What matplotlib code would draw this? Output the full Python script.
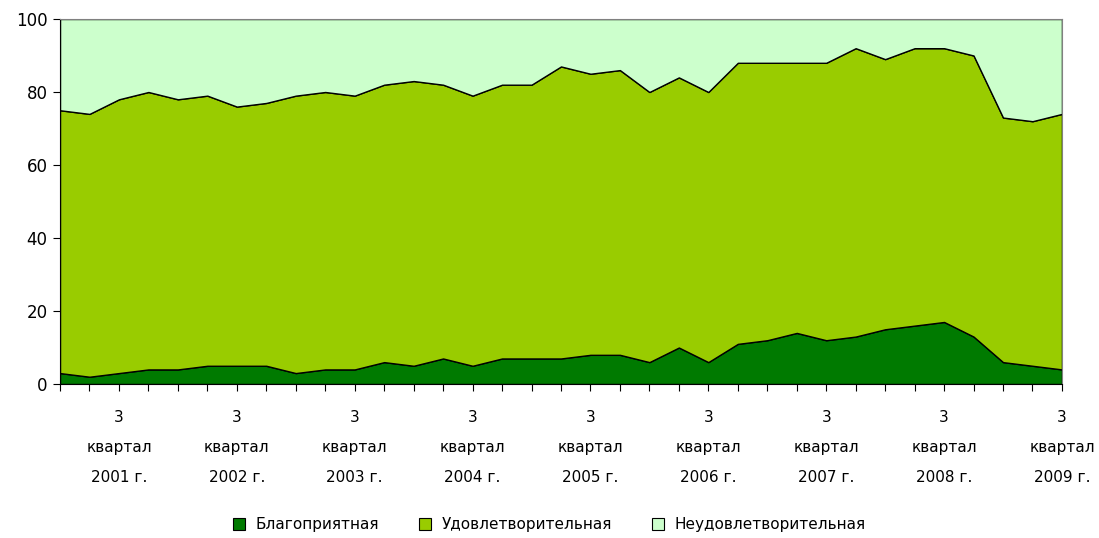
import numpy as np
import matplotlib
matplotlib.use('Agg')
import matplotlib.pyplot as plt
from matplotlib.patches import Patch

# quarters 2001 Q1 .. 2009 Q3
quarters = ['%d кв. %d' % (q, y) for y in range(2001, 2010) for q in (1, 2, 3, 4)][:35]
favorable = [3, 2, 3, 4, 4, 5, 5, 5, 3, 4, 4, 6, 5, 7, 5, 7, 7, 7, 8, 8,
             6, 10, 6, 11, 12, 14, 12, 13, 15, 16, 17, 13, 6, 5, 4]
satisfactory = [72, 72, 75, 76, 74, 74, 71, 72, 76, 76, 75, 76, 78, 75, 74, 75, 75, 80, 77, 78,
                74, 74, 74, 77, 76, 74, 76, 79, 74, 76, 75, 77, 67, 67, 70]
unsatisfactory = [100 - a - b for a, b in zip(favorable, satisfactory)]
names = ['Благоприятная', 'Удовлетворительная', 'Неудовлетворительная']
colors = ['#007A00', '#99CC00', '#CCFFCC']
year_labels = ['3\nквартал\n%d г.' % y for y in range(2001, 2010)]

fig = plt.figure(figsize=(10.99, 5.38), dpi=100)
ax = fig.add_axes([0.0546, 0.2862, 0.9117, 0.6785])

x = np.arange(len(quarters))
ax.stackplot(x, favorable, satisfactory, unsatisfactory, colors=colors,
             edgecolor='black', linewidth=1.0)

ax.set_xlim(0, len(quarters) - 1)
ax.set_ylim(0, 100)
ax.set_yticks([0, 20, 40, 60, 80, 100])
ax.tick_params(axis='y', labelsize=12, length=5, direction='out', pad=4)

# label only the 3rd quarter of every year
xlabels = [''] * len(x)
for i, lab in zip(range(2, len(x), 4), year_labels):
    xlabels[i] = lab
ax.set_xticks(x)
ax.set_xticklabels(xlabels, fontsize=11, linespacing=2.25)
ax.tick_params(axis='x', length=5, direction='out', pad=14)

for side in ['top', 'right']:
    ax.spines[side].set_color('#808080')
ax.spines['left'].set_color('black')
ax.spines['bottom'].set_color('black')

handles = [Patch(facecolor=c, edgecolor='black', linewidth=0.8) for c in colors]
fig.legend(handles, names, loc='lower center', ncol=3, frameon=False,
           fontsize=11, bbox_to_anchor=(0.5, -0.015), handlelength=0.8,
           handleheight=0.8, columnspacing=2.6, handletextpad=0.7)

fig.savefig('out.png', dpi=100)
